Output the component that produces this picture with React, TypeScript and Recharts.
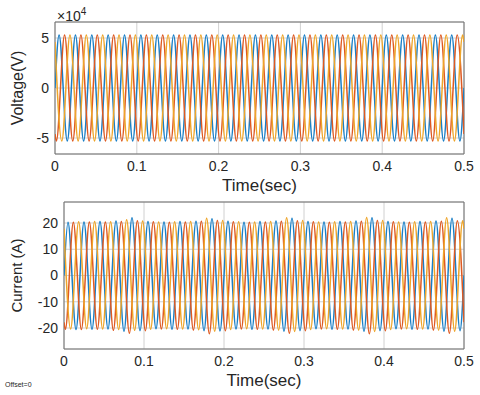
import { LineChart, Line, XAxis, YAxis, CartesianGrid, ReferenceArea } from "recharts";

// peak / trough instants of the three phases (s), with the window ends
const tBlue = [0, 0.005, 0.015, 0.025, 0.035, 0.045, 0.055, 0.065, 0.075, 0.085, 0.095, 0.105, 0.115, 0.125, 0.135, 0.145, 0.155, 0.165, 0.175, 0.185, 0.195, 0.205, 0.215, 0.225, 0.235, 0.245, 0.255, 0.265, 0.275, 0.285, 0.295, 0.305, 0.315, 0.325, 0.335, 0.345, 0.355, 0.365, 0.375, 0.385, 0.395, 0.405, 0.415, 0.425, 0.435, 0.445, 0.455, 0.465, 0.475, 0.485, 0.495, 0.5];
const tRed = [0, 0.0017, 0.0117, 0.0217, 0.0317, 0.0417, 0.0517, 0.0617, 0.0717, 0.0817, 0.0917, 0.1017, 0.1117, 0.1217, 0.1317, 0.1417, 0.1517, 0.1617, 0.1717, 0.1817, 0.1917, 0.2017, 0.2117, 0.2217, 0.2317, 0.2417, 0.2517, 0.2617, 0.2717, 0.2817, 0.2917, 0.3017, 0.3117, 0.3217, 0.3317, 0.3417, 0.3517, 0.3617, 0.3717, 0.3817, 0.3917, 0.4017, 0.4117, 0.4217, 0.4317, 0.4417, 0.4517, 0.4617, 0.4717, 0.4817, 0.4917, 0.5];
const tYellow = [0, 0.0083, 0.0183, 0.0283, 0.0383, 0.0483, 0.0583, 0.0683, 0.0783, 0.0883, 0.0983, 0.1083, 0.1183, 0.1283, 0.1383, 0.1483, 0.1583, 0.1683, 0.1783, 0.1883, 0.1983, 0.2083, 0.2183, 0.2283, 0.2383, 0.2483, 0.2583, 0.2683, 0.2783, 0.2883, 0.2983, 0.3083, 0.3183, 0.3283, 0.3383, 0.3483, 0.3583, 0.3683, 0.3783, 0.3883, 0.3983, 0.4083, 0.4183, 0.4283, 0.4383, 0.4483, 0.4583, 0.4683, 0.4783, 0.4883, 0.4983, 0.5];

// voltage (x10^4 V)
const vBlue = [0, 5.3, -5.3, 5.3, -5.3, 5.3, -5.3, 5.3, -5.3, 5.3, -5.3, 5.3, -5.3, 5.3, -5.3, 5.3, -5.3, 5.3, -5.3, 5.3, -5.3, 5.3, -5.3, 5.3, -5.3, 5.3, -5.3, 5.3, -5.3, 5.3, -5.3, 5.3, -5.3, 5.3, -5.3, 5.3, -5.3, 5.3, -5.3, 5.3, -5.3, 5.3, -5.3, 5.3, -5.3, 5.3, -5.3, 5.3, -5.3, 5.3, -5.3, 0];
const vRed = [-4.6, -5.3, 5.3, -5.3, 5.3, -5.3, 5.3, -5.3, 5.3, -5.3, 5.3, -5.3, 5.3, -5.3, 5.3, -5.3, 5.3, -5.3, 5.3, -5.3, 5.3, -5.3, 5.3, -5.3, 5.3, -5.3, 5.3, -5.3, 5.3, -5.3, 5.3, -5.3, 5.3, -5.3, 5.3, -5.3, 5.3, -5.3, 5.3, -5.3, 5.3, -5.3, 5.3, -5.3, 5.3, -5.3, 5.3, -5.3, 5.3, -5.3, 5.3, -4.6];
const vYellow = [4.6, -5.3, 5.3, -5.3, 5.3, -5.3, 5.3, -5.3, 5.3, -5.3, 5.3, -5.3, 5.3, -5.3, 5.3, -5.3, 5.3, -5.3, 5.3, -5.3, 5.3, -5.3, 5.3, -5.3, 5.3, -5.3, 5.3, -5.3, 5.3, -5.3, 5.3, -5.3, 5.3, -5.3, 5.3, -5.3, 5.3, -5.3, 5.3, -5.3, 5.3, -5.3, 5.3, -5.3, 5.3, -5.3, 5.3, -5.3, 5.3, -5.3, 5.3, 4.6];

// current (A)
const iBlue = [0, 20.3, -20.6, 20.4, -20.5, 20.6, -20.4, 20.8, -21.2, 22.0, -21.0, 20.6, -20.3, 20.4, -20.5, 20.6, -20.4, 20.7, -21.0, 21.6, -21.1, 20.7, -20.4, 20.3, -20.5, 20.6, -20.4, 20.8, -21.2, 21.8, -21.0, 20.6, -20.3, 20.4, -20.5, 20.6, -20.4, 20.8, -21.2, 22.0, -21.0, 20.6, -20.3, 20.4, -20.5, 20.6, -20.4, 20.8, -21.2, 21.8, -21.0, 0];
const iRed = [-17.8, -20.5, 20.3, -20.6, 20.4, -20.5, 20.4, -20.9, 20.6, -22.0, 20.9, -21.0, 20.5, -20.4, 20.3, -20.5, 20.4, -20.8, 20.7, -22.2, 21.0, -21.0, 20.5, -20.4, 20.3, -20.5, 20.4, -20.8, 20.7, -22.0, 20.9, -21.0, 20.5, -20.4, 20.3, -20.5, 20.4, -20.8, 20.7, -22.2, 21.0, -21.0, 20.5, -20.4, 20.3, -20.5, 20.4, -20.8, 20.7, -22.0, 20.9, -17.8];
const iYellow = [17.8, -20.4, 20.5, -20.3, 20.6, -20.4, 20.5, -20.6, 21.2, -20.9, 20.8, -20.5, 20.4, -20.3, 20.5, -20.4, 20.6, -20.7, 21.8, -21.2, 21.0, -20.6, 20.5, -20.3, 20.4, -20.4, 20.6, -20.8, 22.0, -21.3, 21.0, -20.6, 20.4, -20.3, 20.5, -20.4, 20.6, -20.8, 22.1, -21.3, 21.0, -20.6, 20.4, -20.3, 20.5, -20.4, 20.6, -20.8, 22.0, -21.2, 20.9, 17.8];

const timeTicks = [0, 0.1, 0.2, 0.3, 0.4, 0.5];
const voltTicks = [-5, 0, 5];
const currTicks = [-20, -10, 0, 10, 20];

const BLUE = "#1a7fc6";
const RED = "#de5a22";
const YELLOW = "#eea52a";
const INK = "#262626";
const FONT = "'Liberation Sans', Arial, sans-serif";

const toPoints = (t: number[], v: number[]) => t.map((x, i) => ({ t: x, v: v[i] }));

interface PanelProps {
  top: number;
  height: number;
  yWidth: number;
  marginTop: number;
  xHeight: number;
  labelOffset: number;
  yLabel: string;
  yLabelSize: number;
  yDomain: [number, number];
  yTicks: number[];
  blue: number[];
  red: number[];
  yellow: number[];
}

const Panel = (p: PanelProps) => (
  <div style={{ position: "absolute", left: 0, top: p.top }}>
    <LineChart width={480} height={p.height} margin={{ top: p.marginTop, right: 16, bottom: 0, left: 0 }}>
      <CartesianGrid stroke="#c4c4c4" strokeWidth={0.8} />
      <XAxis
        type="number"
        dataKey="t"
        domain={[0, 0.5]}
        ticks={timeTicks}
        allowDataOverflow
        height={p.xHeight}
        axisLine={false}
        tickLine={false}
        tickSize={0}
        tickMargin={7}
        tick={{ fill: INK, fontSize: 14, fontFamily: FONT }}
        label={{ value: "Time(sec)", position: "insideBottom", offset: p.labelOffset, fill: INK, fontSize: 17, fontFamily: FONT }}
      />
      <YAxis
        type="number"
        dataKey="v"
        domain={p.yDomain}
        ticks={p.yTicks}
        allowDataOverflow
        width={p.yWidth}
        axisLine={false}
        tickLine={false}
        tickSize={0}
        tickMargin={6}
        tick={{ fill: INK, fontSize: 14, fontFamily: FONT }}
        label={{ value: p.yLabel, angle: -90, position: "insideLeft", offset: 17, fill: INK, fontSize: p.yLabelSize, fontFamily: FONT, style: { textAnchor: "middle" } }}
      />
      <Line data={toPoints(tBlue, p.blue)} dataKey="v" type="monotone" stroke={BLUE} strokeWidth={1.5} dot={false} isAnimationActive={false} />
      <Line data={toPoints(tRed, p.red)} dataKey="v" type="monotone" stroke={RED} strokeWidth={1.5} dot={false} isAnimationActive={false} />
      <Line data={toPoints(tYellow, p.yellow)} dataKey="v" type="monotone" stroke={YELLOW} strokeWidth={1.5} dot={false} isAnimationActive={false} />
      <ReferenceArea x1={0} x2={0.5} y1={p.yDomain[0]} y2={p.yDomain[1]} fill="none" stroke="#707070" strokeWidth={1} fillOpacity={0} />
    </LineChart>
  </div>
);

export default function App() {
  return (
    <div style={{ position: "absolute", left: 0, top: 0, width: 480, height: 395, background: "#fff", fontFamily: FONT, color: INK }}>
      <Panel
        top={0}
        height={195}
        yWidth={55}
        marginTop={22}
        xHeight={41}
        labelOffset={4}
        yLabel="Voltage(V)"
        yLabelSize={16}
        yDomain={[-6.6, 6.6]}
        yTicks={voltTicks}
        blue={vBlue}
        red={vRed}
        yellow={vYellow}
      />
      <Panel
        top={195}
        height={200}
        yWidth={64}
        marginTop={7}
        xHeight={46}
        labelOffset={9}
        yLabel="Current (A)"
        yLabelSize={15}
        yDomain={[-28, 28]}
        yTicks={currTicks}
        blue={iBlue}
        red={iRed}
        yellow={iYellow}
      />
      <div style={{ position: "absolute", left: 57, top: 4, fontSize: 14, lineHeight: "16px" }}>
        ×10<sup style={{ fontSize: 10 }}>4</sup>
      </div>
      <div style={{ position: "absolute", left: 5, top: 381, fontSize: 7 }}>Offset=0</div>
    </div>
  );
}
